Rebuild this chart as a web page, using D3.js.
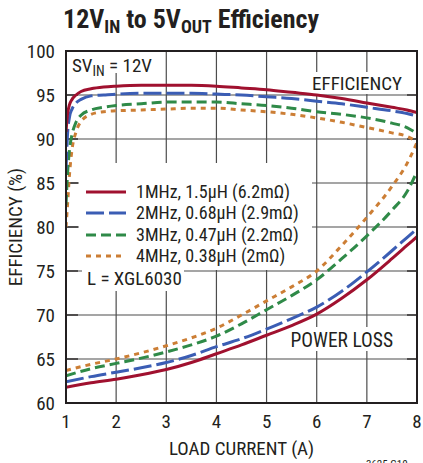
<!DOCTYPE html>
<html>
<head>
<meta charset="utf-8">
<script src="https://cdn.jsdelivr.net/npm/d3@7"></script>
<style>
  body { margin: 0; background: #fff; }
  svg text { font-family: "Liberation Sans Narrow", "Arial Narrow", "Roboto Condensed", "DejaVu Sans Condensed", sans-serif; fill: #231f20; }
</style>
</head>
<body>
<div id="chart"></div>
<script>
// load current samples (A)
const effCurrent = [1, 1.03, 1.07, 1.12, 1.2, 1.3, 1.5, 1.75, 2, 2.5, 3, 3.5, 4, 4.5, 5, 5.5, 6, 6.5, 7, 7.5, 7.8, 8];
const lossCurrent = [1, 1.5, 2, 2.5, 3, 3.5, 4, 4.5, 5, 5.5, 6, 6.5, 7, 7.5, 7.8, 8];

// efficiency (%) per switching frequency
const eff1MHz = [90.8, 92.8, 93.9, 94.5, 95.0, 95.4, 95.7, 95.9, 96.0, 96.1, 96.1, 96.1, 96.0, 95.8, 95.6, 95.3, 95.0, 94.6, 94.1, 93.6, 93.3, 93.0];
const eff2MHz = [86.5, 90.5, 92.5, 93.4, 94.1, 94.5, 94.9, 95.0, 95.1, 95.2, 95.2, 95.2, 95.1, 95.0, 94.8, 94.6, 94.3, 94.0, 93.6, 93.2, 92.9, 92.6];
const eff3MHz = [82.5, 86.0, 88.8, 90.5, 91.9, 92.7, 93.3, 93.6, 93.8, 94.0, 94.2, 94.2, 94.2, 94.0, 93.8, 93.5, 93.1, 92.8, 92.4, 91.8, 91.3, 90.6];
const eff4MHz = [80.0, 82.5, 86.0, 88.8, 90.8, 92.0, 92.8, 93.1, 93.2, 93.3, 93.4, 93.5, 93.5, 93.3, 93.1, 92.8, 92.4, 91.9, 91.3, 90.7, 90.3, 89.7];

// power loss curves, read on the efficiency scale (no right axis shown)
const loss1MHz = [61.8, 62.3, 62.7, 63.2, 63.8, 64.6, 65.6, 66.6, 67.7, 68.8, 70.1, 71.9, 74.0, 76.4, 77.9, 78.9];
const loss2MHz = [62.4, 63.0, 63.5, 64.0, 64.6, 65.4, 66.4, 67.3, 68.4, 69.6, 70.9, 72.7, 74.9, 77.3, 78.8, 79.8];
const loss3MHz = [63.1, 63.9, 64.5, 65.1, 65.8, 66.6, 67.6, 69.0, 70.6, 72.2, 74.0, 76.4, 79.0, 81.9, 84.0, 86.3];
const loss4MHz = [63.7, 64.4, 65.0, 65.7, 66.5, 67.4, 68.5, 70.0, 71.6, 73.2, 75.0, 77.9, 81.1, 84.6, 87.2, 89.6];

const seriesNames = ["1MHz, 1.5\u03bcH (6.2m\u03a9)", "2MHz, 0.68\u03bcH (2.9m\u03a9)", "3MHz, 0.47\u03bcH (2.2m\u03a9)", "4MHz, 0.38\u03bcH (2m\u03a9)"];
const seriesColors = ["#a0112f", "#3b5db4", "#2f8a48", "#cc7e35"];
const seriesDash = ["none", "18,5", "10,5", "5,5"];

const xTicks = [1, 2, 3, 4, 5, 6, 7, 8];
const yTicks = [60, 65, 70, 75, 80, 85, 90, 95, 100];

var width = 423, height = 463;
var margin = {top: 51, right: 6, bottom: 60, left: 66};
var plotW = width - margin.left - margin.right,
    plotH = height - margin.top - margin.bottom;

var svg = d3.select("#chart")
    .append("svg")
    .attr("width", width)
    .attr("height", height);

var x = d3.scaleLinear().domain([1, 8]).range([margin.left, margin.left + plotW]);
var y = d3.scaleLinear().domain([60, 100]).range([margin.top + plotH, margin.top]);

// title
var title = svg.append("text")
    .attr("x", 63)
    .attr("y", 28)
    .style("font-weight", "bold")
    .style("font-size", "26px");
title.append("tspan").text("12V");
title.append("tspan").attr("dy", 5).style("font-size", "18px").text("IN");
title.append("tspan").attr("dy", -5).text(" to 5V");
title.append("tspan").attr("dy", 5).style("font-size", "18px").text("OUT");
title.append("tspan").attr("dy", -5).text(" Efficiency");

// grid
var grid = svg.append("g").attr("stroke", "#4d4d4d").attr("stroke-width", 1.2);
grid.selectAll("line.v")
    .data(xTicks.slice(1, -1))
    .enter()
    .append("line")
    .attr("x1", (d) => x(d)).attr("x2", (d) => x(d))
    .attr("y1", y(100)).attr("y2", y(60));
grid.selectAll("line.h")
    .data(yTicks.slice(1, -1))
    .enter()
    .append("line")
    .attr("x1", x(1)).attr("x2", x(8))
    .attr("y1", (d) => y(d)).attr("y2", (d) => y(d));

// white backgrounds behind the labels hide the grid
var masks = [
    [x(1), y(100), 160, 73],
    [310, 72, 406, 94],
    [79, 163, 312, 270],
    [82, 270, 184, 291],
    [288, 327, 396, 351]
];
svg.append("g").selectAll("rect")
    .data(masks)
    .enter()
    .append("rect")
    .attr("x", (d) => d[0]).attr("y", (d) => d[1])
    .attr("width", (d) => d[2] - d[0]).attr("height", (d) => d[3] - d[1])
    .attr("fill", "#fff");

// inner ticks
var ticks = svg.append("g").attr("stroke", "#231f20").attr("stroke-width", 1.3);
ticks.selectAll("line.l")
    .data(yTicks)
    .enter()
    .append("line")
    .attr("x1", x(1)).attr("x2", x(1) + 12)
    .attr("y1", (d) => y(d)).attr("y2", (d) => y(d));
ticks.selectAll("line.r")
    .data(yTicks)
    .enter()
    .append("line")
    .attr("x1", x(8) - 10).attr("x2", x(8))
    .attr("y1", (d) => y(d)).attr("y2", (d) => y(d));

// curves
svg.append("clipPath").attr("id", "plotClip")
    .append("rect")
    .attr("x", x(1)).attr("y", y(100))
    .attr("width", plotW).attr("height", plotH);

var line = d3.line()
    .x((d) => x(d[0]))
    .y((d) => y(d[1]))
    .curve(d3.curveMonotoneX);

var effSeries = [eff1MHz, eff2MHz, eff3MHz, eff4MHz];
var lossSeries = [loss1MHz, loss2MHz, loss3MHz, loss4MHz];
var curves = svg.append("g").attr("clip-path", "url(#plotClip)");

for (let i = 3; i >= 0; i--) {
    curves.append("path")
        .datum(effCurrent.map((c, j) => [c, effSeries[i][j]]))
        .attr("d", line)
        .attr("fill", "none")
        .attr("stroke", seriesColors[i])
        .attr("stroke-width", 3)
        .attr("stroke-dasharray", seriesDash[i]);
    curves.append("path")
        .datum(lossCurrent.map((c, j) => [c, lossSeries[i][j]]))
        .attr("d", line)
        .attr("fill", "none")
        .attr("stroke", seriesColors[i])
        .attr("stroke-width", 3)
        .attr("stroke-dasharray", seriesDash[i]);
}

// frame
svg.append("rect")
    .attr("x", x(1)).attr("y", y(100))
    .attr("width", plotW).attr("height", plotH)
    .attr("fill", "none")
    .attr("stroke", "#231f20")
    .attr("stroke-width", 2);

// axis labels
svg.append("g").selectAll("text")
    .data(yTicks)
    .enter()
    .append("text")
    .attr("x", 55)
    .attr("y", (d) => y(d))
    .attr("dy", "0.36em")
    .attr("text-anchor", "end")
    .style("font-size", "19px")
    .text((d) => d);

svg.append("g").selectAll("text")
    .data(xTicks)
    .enter()
    .append("text")
    .attr("x", (d) => x(d))
    .attr("y", 428)
    .attr("text-anchor", "middle")
    .style("font-size", "19px")
    .text((d) => d);

svg.append("text")
    .attr("x", (margin.left + margin.left + plotW) / 2)
    .attr("y", 455)
    .attr("text-anchor", "middle")
    .style("font-size", "19px")
    .text("LOAD CURRENT (A)");

svg.append("text")
    .attr("transform", "translate(22," + (margin.top + plotH / 2) + ") rotate(-90)")
    .attr("text-anchor", "middle")
    .style("font-size", "19px")
    .text("EFFICIENCY (%)");

// in-plot labels
var sv = svg.append("text").attr("x", 72).attr("y", 72).style("font-size", "19px");
sv.append("tspan").text("SV");
sv.append("tspan").attr("dy", 4).style("font-size", "14px").text("IN");
sv.append("tspan").attr("dy", -4).text(" = 12V");

svg.append("text").attr("x", 402).attr("y", 90).attr("text-anchor", "end")
    .style("font-size", "19px").text("EFFICIENCY");
svg.append("text").attr("x", 393).attr("y", 347).attr("text-anchor", "end")
    .style("font-size", "19.5px").text("POWER LOSS");

// legend
var legendY = [192, 213, 235, 256];
var legend = svg.append("g");
seriesNames.forEach((name, i) => {
    legend.append("line")
        .attr("x1", 86).attr("x2", 126)
        .attr("y1", legendY[i]).attr("y2", legendY[i])
        .attr("stroke", seriesColors[i])
        .attr("stroke-width", 3)
        .attr("stroke-dasharray", seriesDash[i]);
    legend.append("text")
        .attr("x", 136)
        .attr("y", legendY[i])
        .attr("dy", "0.36em")
        .style("font-size", "18px")
        .text(name);
});
legend.append("text")
    .attr("x", 87).attr("y", 278).attr("dy", "0.36em")
    .style("font-size", "19px")
    .text("L = XGL6030");

// figure number, cut by the bottom edge
svg.append("text").attr("x", 366).attr("y", 468)
    .style("font-size", "11px").text("3625 G10");
</script>
</body>
</html>
